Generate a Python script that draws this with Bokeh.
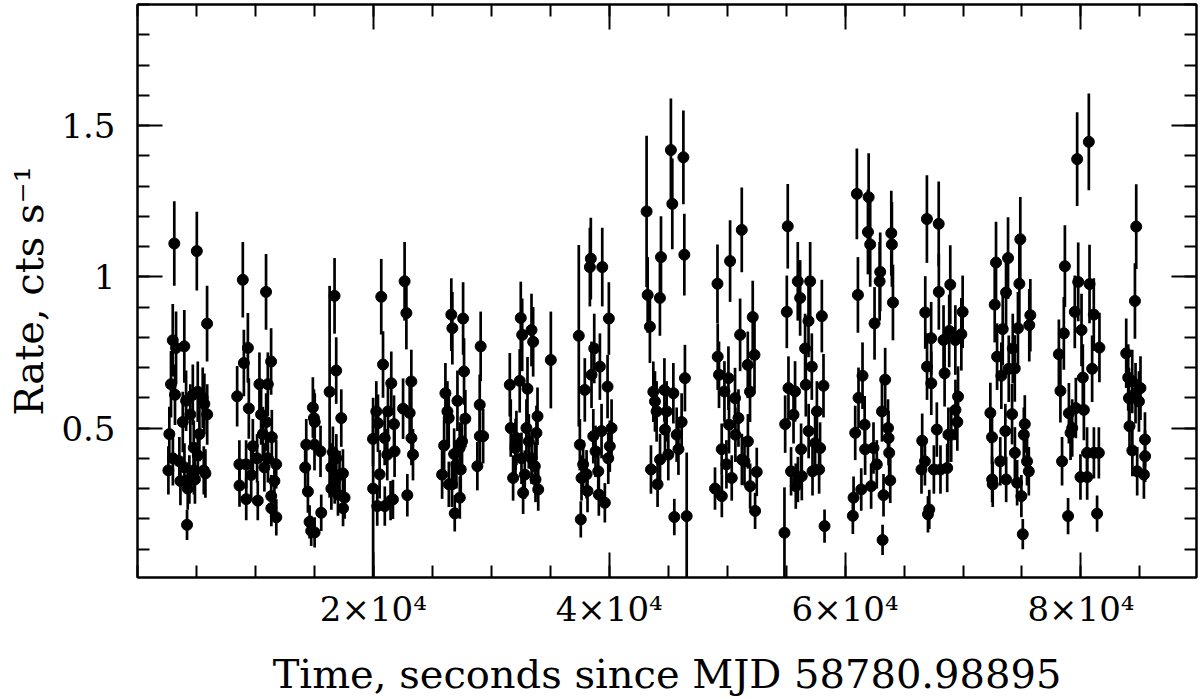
from bokeh.plotting import figure
from bokeh.models import Range1d, LinearAxis, FixedTicker, ColumnDataSource, CustomLabelingPolicy
from bokeh.embed import file_html
from bokeh.resources import INLINE

# ---- data: time (s since MJD 58780.98895), rate (cts/s), 1-sigma error ----
time_s = [
    2620, 2700, 2840, 2990, 3000, 3120, 3180, 3270, 3550, 3640, 3840, 3970, 3980, 4120, 4200, 4260, 4400, 4480, 4690, 4770, 4780, 4870, 5030, 5110, 5120, 5250, 5530, 5620, 5670, 5760, 5900, 5910,
    8450, 8640, 8650, 8930, 9020, 9210, 9220, 9360, 9440, 9640, 9780, 10140, 10200, 10340, 10480, 10630, 10760, 10900, 10910, 11050, 11060, 11330, 11340, 11350, 11390, 11610, 11760, 11770,
    14220, 14310, 14450, 14590, 14730, 14870, 14960, 15010, 15020, 15030, 15520, 15580, 16290, 16430, 16440, 16570, 16710, 16720, 16850, 16860, 17000, 17130, 17280, 17420, 17430, 17560,
    19970, 19980, 20250, 20330, 20390, 20530, 20670, 20820, 20960, 20970, 21180, 21240, 21460, 21520, 21660, 21750, 21800, 22520, 22650, 22800, 22880, 23080, 23220, 23230, 23360,
    25830, 26000, 26110, 26280, 26390, 26400, 26610, 26670, 26700, 26850, 26900, 27040, 27130, 27320, 27330, 27410, 27520, 27610, 27690, 27800, 28820, 29020, 29030, 29100, 29310,
    31570, 31650, 31850, 32050, 32060, 32130, 32410, 32500, 32560, 32620, 32700, 32840, 32980, 33070, 33180, 33410, 33420, 33550, 33690, 33750, 33830, 33920, 33980, 35050,
    37420, 37510, 37590, 37650, 37790, 37930, 38080, 38160, 38360, 38440, 38500, 38650, 38730, 38840, 39070, 39120, 39210, 39350, 39410, 39630, 39860, 39920, 39970, 40050, 40200,
    43170, 43260, 43450, 43540, 43740, 43880, 44020, 44100, 44300, 44310, 44390, 44680, 44730, 44870, 45010, 45230, 45350, 45440, 45520, 45720, 45870, 46140, 46290, 46370, 46420, 46570,
    48970, 49180, 49200, 49310, 49540, 49550, 49770, 49940, 50110, 50160, 50250, 50390, 50670, 50700, 50960, 51100, 51240, 51250, 51470, 51750, 51760, 51940, 51950, 52170, 52320, 52370, 52510,
    54860, 54920, 55060, 55140, 55200, 55420, 55630, 55760, 55820, 55990, 56000, 56190, 56270, 56330, 56610, 56670, 56900, 56910, 57040, 57180, 57240, 57460, 57610, 57800, 57880, 58030, 58170, 58260,
    60660, 60720, 60860, 61000, 61090, 61140, 61370, 61480, 61660, 61700, 61940, 62000, 62130, 62210, 62410, 62500, 62690, 62930, 62980, 63130, 63180, 63260, 63400, 63640, 63690, 63740, 63830, 63920, 63970, 64060,
    66480, 66540, 66770, 66800, 66940, 66950, 67030, 67140, 67300, 67310, 67530, 67780, 67940, 67950, 68090, 68350, 68440, 68660, 68760, 68830, 68920, 69000, 69350, 69360, 69520, 69580, 69860, 69970,
    72320, 72460, 72470, 72520, 72690, 72800, 72890, 73160, 73250, 73370, 73590, 73650, 73660, 73820, 73880, 74160, 74220, 74390, 74400, 74590, 74660, 74780, 74860, 74950, 75070, 75160, 75240, 75430, 75580, 75620, 75710,
    78130, 78260, 78400, 78550, 78640, 78910, 78980, 79120, 79260, 79480, 79570, 79680, 79770, 79960, 80050, 80160, 80250, 80520, 80530, 80670, 80730, 80950, 81090, 81100, 81370, 81520, 81570,
    83840, 84010, 84070, 84120, 84350, 84360, 84580, 84630, 84690, 84770, 84920, 85050, 85340, 85430, 85440,
]

rate = [
    0.36, 0.48, 0.645, 0.79, 0.40, 1.11, 0.61, 0.765, 0.39, 0.325, 0.52, 0.77, 0.37, 0.59, 0.18, 0.30, 0.33, 0.545, 0.61, 0.435, 0.36, 0.33, 1.085, 0.62, 0.41, 0.48, 0.60, 0.36, 0.58, 0.35, 0.845, 0.545,
    0.605, 0.38, 0.31, 0.99, 0.715, 0.38, 0.265, 0.765, 0.565, 0.345, 0.44, 0.40, 0.26, 0.645, 0.545, 0.48, 0.37, 0.95, 0.52, 0.645, 0.40, 0.72, 0.275, 0.235, 0.47, 0.325, 0.38, 0.205,
    0.37, 0.445, 0.29, 0.19, 0.16, 0.568, 0.533, 0.445, 0.155, 0.52, 0.423, 0.22, 0.62, 0.37, 0.30, 0.42, 0.937, 0.325, 0.69, 0.40, 0.28, 0.345, 0.533, 0.35, 0.235, 0.27,
    0.464, 0.30, 0.555, 0.242, 0.516, 0.347, 0.934, 0.71, 0.467, 0.242, 0.412, 0.555, 0.26, 0.648, 0.264, 0.513, 0.423, 0.564, 0.985, 0.88, 0.278, 0.55, 0.654, 0.467, 0.412,
    0.346, 0.442, 0.615, 0.555, 0.533, 0.314, 0.875, 0.314, 0.83, 0.414, 0.218, 0.38, 0.59, 0.434, 0.27, 0.363, 0.456, 0.862, 0.687, 0.531, 0.374, 0.577, 0.473, 0.77, 0.473,
    0.643, 0.50, 0.335, 0.434, 0.446, 0.467, 0.656, 0.864, 0.40, 0.808, 0.286, 0.346, 0.50, 0.63, 0.456, 0.824, 0.40, 0.785, 0.374, 0.33, 0.484, 0.539, 0.297, 0.725,
    0.805, 0.445, 0.198, 0.335, 0.38, 0.626, 0.347, 0.292, 1.032, 1.06, 0.676, 0.473, 0.763, 0.423, 0.357, 0.28, 0.703, 0.49, 1.032, 0.253, 0.637, 0.40, 0.862, 0.44, 0.50,
    1.216, 0.94, 0.835, 0.363, 0.62, 0.588, 0.555, 0.314, 0.93, 0.396, 1.065, 0.626, 0.495, 0.555, 0.412, 1.419, 1.241, 0.615, 0.206, 0.478, 0.43, 0.52, 1.395, 1.073, 0.665, 0.209,
    0.30, 0.977, 0.736, 0.676, 0.43, 0.275, 0.621, 0.38, 0.665, 0.511, 1.052, 0.335, 0.599, 0.478, 0.533, 0.808, 1.155, 0.396, 0.39, 0.709, 0.456, 0.62, 0.308, 0.867, 0.742, 0.226, 0.355,
    0.154, 0.513, 0.884, 1.167, 0.632, 0.357, 0.544, 0.621, 0.308, 0.985, 0.33, 0.93, 0.43, 0.341, 0.763, 0.643, 0.854, 0.49, 0.985, 0.703, 0.357, 0.45, 0.555, 0.363, 0.434, 0.87, 0.64, 0.176,
    0.21, 0.27, 0.484, 1.274, 0.94, 0.60, 0.297, 0.673, 0.511, 0.43, 1.148, 1.263, 1.107, 0.308, 0.434, 0.846, 0.38, 0.985, 1.016, 0.555, 0.13, 0.278, 0.66, 0.50, 0.467, 0.418, 0.327, 1.144, 1.107, 0.915,
    0.363, 0.458, 0.39, 0.882, 1.191, 0.703, 0.215, 0.231, 0.797, 0.648, 0.363, 0.495, 1.175, 0.95, 0.363, 0.791, 0.681, 0.368, 0.478, 0.821, 0.974, 0.478, 0.791, 0.56, 0.52, 0.604, 0.81, 0.884,
    0.55, 0.47, 0.33, 0.314, 0.908, 1.047, 0.736, 0.39, 0.673, 0.827, 0.49, 0.948, 0.33, 1.062, 0.696, 0.546, 0.763, 0.697, 0.418, 0.319, 0.83, 0.977, 1.124, 0.275, 0.149, 0.478, 0.513, 0.39, 0.357, 0.84, 0.873,
    0.744, 0.623, 0.39, 0.813, 1.035, 0.209, 0.549, 0.484, 0.50, 0.884, 0.566, 1.389, 0.983, 0.338, 0.824, 0.667, 0.56, 0.418, 0.338, 1.446, 0.976, 0.696, 0.875, 0.418, 0.217, 0.418, 0.766,
    0.747, 0.667, 0.599, 0.506, 0.654, 0.426, 0.92, 0.615, 1.166, 0.357, 0.588, 0.632, 0.346, 0.462, 0.407,
]

rate_err = [
    0.08, 0.09, 0.11, 0.12, 0.09, 0.14, 0.10, 0.12, 0.08, 0.08, 0.10, 0.12, 0.08, 0.10, 0.05, 0.07, 0.08, 0.10, 0.10, 0.09, 0.08, 0.08, 0.13, 0.10, 0.08, 0.09, 0.10, 0.08, 0.10, 0.08, 0.125, 0.10,
    0.10, 0.08, 0.07, 0.125, 0.11, 0.08, 0.07, 0.115, 0.10, 0.08, 0.09, 0.08, 0.065, 0.105, 0.10, 0.09, 0.08, 0.125, 0.095, 0.105, 0.08, 0.11, 0.07, 0.06, 0.09, 0.075, 0.08, 0.06,
    0.08, 0.085, 0.07, 0.055, 0.05, 0.10, 0.095, 0.085, 0.05, 0.095, 0.085, 0.06, 0.35, 0.08, 0.07, 0.085, 0.125, 0.075, 0.11, 0.08, 0.07, 0.08, 0.095, 0.08, 0.06, 0.07,
    0.09, 0.30, 0.10, 0.065, 0.095, 0.08, 0.125, 0.11, 0.09, 0.065, 0.085, 0.10, 0.065, 0.105, 0.065, 0.095, 0.085, 0.10, 0.13, 0.12, 0.07, 0.10, 0.105, 0.09, 0.085,
    0.08, 0.085, 0.10, 0.10, 0.095, 0.075, 0.12, 0.075, 0.12, 0.085, 0.06, 0.08, 0.10, 0.085, 0.07, 0.08, 0.09, 0.12, 0.11, 0.095, 0.08, 0.10, 0.09, 0.115, 0.09,
    0.105, 0.095, 0.075, 0.085, 0.085, 0.09, 0.105, 0.12, 0.085, 0.12, 0.07, 0.08, 0.095, 0.105, 0.09, 0.12, 0.085, 0.115, 0.08, 0.075, 0.09, 0.095, 0.07, 0.16,
    0.30, 0.085, 0.06, 0.075, 0.08, 0.105, 0.08, 0.07, 0.13, 0.135, 0.11, 0.09, 0.115, 0.085, 0.08, 0.07, 0.11, 0.09, 0.13, 0.065, 0.105, 0.085, 0.12, 0.085, 0.095,
    0.25, 0.125, 0.12, 0.08, 0.10, 0.10, 0.10, 0.075, 0.125, 0.085, 0.135, 0.105, 0.09, 0.10, 0.085, 0.17, 0.15, 0.10, 0.06, 0.09, 0.085, 0.095, 0.155, 0.135, 0.11, 0.21,
    0.07, 0.13, 0.11, 0.11, 0.085, 0.07, 0.10, 0.08, 0.105, 0.095, 0.135, 0.075, 0.10, 0.09, 0.095, 0.12, 0.14, 0.085, 0.08, 0.11, 0.09, 0.10, 0.075, 0.12, 0.115, 0.06, 0.08,
    0.15, 0.095, 0.12, 0.14, 0.105, 0.08, 0.095, 0.10, 0.075, 0.13, 0.075, 0.125, 0.085, 0.08, 0.115, 0.105, 0.12, 0.09, 0.13, 0.11, 0.08, 0.09, 0.10, 0.08, 0.085, 0.12, 0.105, 0.055,
    0.06, 0.07, 0.09, 0.15, 0.125, 0.10, 0.07, 0.11, 0.095, 0.085, 0.14, 0.145, 0.14, 0.075, 0.085, 0.12, 0.08, 0.13, 0.13, 0.10, 0.05, 0.07, 0.105, 0.095, 0.09, 0.085, 0.075, 0.14, 0.14, 0.125,
    0.08, 0.09, 0.08, 0.12, 0.145, 0.11, 0.06, 0.065, 0.12, 0.105, 0.08, 0.09, 0.14, 0.125, 0.08, 0.115, 0.11, 0.08, 0.09, 0.12, 0.13, 0.09, 0.115, 0.10, 0.095, 0.10, 0.12, 0.12,
    0.10, 0.09, 0.075, 0.075, 0.125, 0.135, 0.11, 0.08, 0.11, 0.12, 0.09, 0.125, 0.075, 0.135, 0.11, 0.10, 0.115, 0.11, 0.085, 0.075, 0.12, 0.13, 0.14, 0.07, 0.05, 0.09, 0.095, 0.08, 0.08, 0.12, 0.12,
    0.115, 0.105, 0.08, 0.12, 0.135, 0.06, 0.10, 0.09, 0.095, 0.12, 0.10, 0.155, 0.13, 0.075, 0.12, 0.11, 0.10, 0.085, 0.075, 0.16, 0.13, 0.11, 0.12, 0.085, 0.06, 0.085, 0.115,
    0.115, 0.11, 0.10, 0.095, 0.105, 0.085, 0.125, 0.10, 0.14, 0.08, 0.10, 0.105, 0.08, 0.09, 0.085,
]

x_major = [20000, 40000, 60000, 80000]
x_labels = ["2×10⁴", "4×10⁴", "6×10⁴", "8×10⁴"]
y_major = [0.5, 1.0, 1.5]
y_labels = ["0.5", "1", "1.5"]
x_title = "Time, seconds since MJD 58780.98895"
y_title = "Rate, cts s⁻¹"

assert len(time_s) == len(rate) == len(rate_err), (len(time_s), len(rate), len(rate_err))

src = ColumnDataSource(dict(
    t=time_s, r=rate,
    lo=[r - e for r, e in zip(rate, rate_err)],
    hi=[r + e for r, e in zip(rate, rate_err)],
))

FONT = "DejaVu Serif"

p = figure(width=1200, height=699, output_backend="svg", toolbar_location=None,
           x_range=Range1d(0, 89800), y_range=Range1d(0.006, 1.9),
           min_border_left=137, min_border_right=4, min_border_top=2, min_border_bottom=122,
           background_fill_color="white", border_fill_color="white")
p.grid.visible = False
p.outline_line_color = "black"
p.outline_line_width = 2

p.segment(x0="t", y0="lo", x1="t", y1="hi", source=src, line_color="black", line_width=2.7)
p.scatter(x="t", y="r", source=src, marker="circle", size=11, fill_color="black", line_color="black")

xt = FixedTicker(ticks=x_major, minor_ticks=list(range(0, 90001, 5000)))
yt = FixedTicker(ticks=y_major, minor_ticks=[round(0.1 * i, 1) for i in range(0, 20)])


def style_axis(ax, show_labels):
    ax.axis_line_color = "black"
    ax.axis_line_width = 2
    ax.major_tick_line_color = "black"
    ax.major_tick_line_width = 2
    ax.minor_tick_line_color = "black"
    ax.minor_tick_line_width = 2
    ax.major_tick_in = 25
    ax.major_tick_out = 0
    ax.minor_tick_in = 12
    ax.minor_tick_out = 0
    if show_labels:
        ax.major_label_text_font = FONT
        ax.major_label_text_font_size = "34px"
        ax.major_label_text_color = "black"
        ax.axis_label_text_font = FONT
        ax.axis_label_text_font_size = "40px"
        ax.axis_label_text_font_style = "normal"
        ax.axis_label_text_color = "black"
    else:
        # mirrored tick marks only: no labels are drawn on these axes
        ax.major_label_policy = CustomLabelingPolicy(code="return new Set()")
        ax.major_label_text_font_size = "1px"
        ax.major_label_standoff = 0
        ax.axis_label = None


xa = p.xaxis[0]
xa.ticker = xt
xa.major_label_overrides = dict(zip(x_major, x_labels))
xa.axis_label = x_title
style_axis(xa, True)
xa.major_label_standoff = 11
xa.axis_label_standoff = 19

ya = p.yaxis[0]
ya.ticker = yt
ya.major_label_overrides = dict(zip(y_major, y_labels))
ya.axis_label = y_title
style_axis(ya, True)
ya.major_label_standoff = 22
ya.axis_label_standoff = 6

top = LinearAxis(ticker=xt)
style_axis(top, False)
p.add_layout(top, "above")
right = LinearAxis(ticker=yt)
style_axis(right, False)
p.add_layout(right, "right")

html = file_html(p, INLINE)
html = html.replace("<body>", '<body style="margin:0;overflow:hidden">', 1)
open("out.html", "w").write(html)
